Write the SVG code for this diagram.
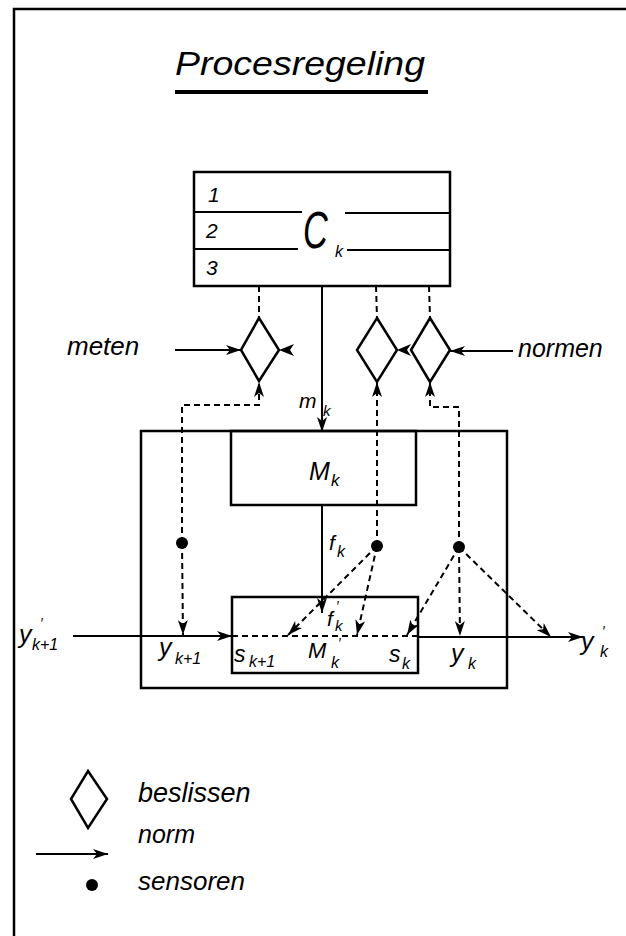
<svg xmlns="http://www.w3.org/2000/svg" width="626" height="936" viewBox="0 0 626 936">
<style>
text{font-family:"Liberation Sans",Arial,sans-serif;font-style:italic;fill:#000}
.ln{stroke:#000;stroke-width:2;fill:none}
.bx{stroke:#000;stroke-width:2.5;fill:none}
.ds{stroke:#000;stroke-width:2;fill:none;stroke-dasharray:6 4}
.dm{stroke:#000;stroke-width:2.5;fill:#fff;stroke-linejoin:miter}
.dot{fill:#000}
.ah{fill:#000}
</style>
<defs>
<marker id="arr" viewBox="0 0 15 10" refX="15" refY="5" markerWidth="15" markerHeight="10" orient="auto" markerUnits="userSpaceOnUse">
<path d="M0,0 L15,5 L0,10 L4,5 z" fill="#000"/>
</marker>
</defs>
<rect width="626" height="936" fill="#fff"/>
<g id="frame">
<path class="bx" d="M14,936 L14,9 L626,9" stroke-width="3"/>
</g>
<g id="title">
<text x="175" y="75" font-size="33" textLength="250" lengthAdjust="spacingAndGlyphs">Procesregeling</text>
<line x1="175" y1="92" x2="428" y2="92" stroke="#000" stroke-width="4"/>
</g>
<g id="node-C">
<rect class="bx" x="194" y="172" width="256" height="114"/>
<line class="ln" x1="194" y1="212" x2="302" y2="212"/>
<line class="ln" x1="345" y1="213" x2="450" y2="213"/>
<line class="ln" x1="194" y1="249" x2="298" y2="249"/>
<line class="ln" x1="347" y1="250" x2="450" y2="250"/>
<text x="208" y="202" font-size="21">1</text>
<text x="206" y="238" font-size="21">2</text>
<text x="206" y="275" font-size="21">3</text>
<text transform="translate(303,248) scale(0.66,1)" font-size="52">C</text>
<text x="335" y="257" font-size="16">k</text>
</g>
<g id="node-meten">
<polygon class="dm" points="259,318 279,350 259,381 241,350"/>
<polygon class="ah" points="279,350 294,344 290,350 294,356"/>
<text x="67" y="355" font-size="26">meten</text>
</g>
<g id="node-beslis2">
<polygon class="dm" points="377,318 397,350 377,382 357,350"/>
<polygon class="ah" points="397,350 411,344 407,350 411,356"/>
</g>
<g id="node-normen">
<polygon class="dm" points="430,318 450,350 430,382 411,350"/>
<text x="518" y="357" font-size="25">normen</text>
</g>
<g id="node-proces">
<rect class="bx" x="141" y="431" width="366" height="257"/>
</g>
<g id="node-Mk">
<rect class="bx" x="231" y="431" width="185" height="74"/>
<text x="309" y="480" font-size="25">M</text>
<text x="331" y="486" font-size="17">k</text>
</g>
<g id="node-Mk2">
<rect class="bx" x="232" y="597" width="186" height="76"/>
<text x="327" y="626" font-size="21">f</text>
<text x="336" y="611" font-size="14">′</text>
<text x="335" y="631" font-size="15">k</text>
<text x="308" y="658" font-size="22">M</text>
<text x="338" y="648" font-size="14">′</text>
<text x="331" y="668" font-size="16">k</text>
<text x="389" y="662" font-size="23">s</text>
<text x="402" y="669" font-size="16">k</text>
<text x="234" y="662" font-size="23">s</text>
<text x="249" y="667" font-size="16">k+1</text>
</g>
<g id="sensors">
<circle class="dot" cx="182" cy="543" r="6"/>
<circle class="dot" cx="377" cy="546" r="6"/>
<circle class="dot" cx="459" cy="547" r="6"/>
</g>
<g id="connectors">
<line class="ln" x1="175" y1="350" x2="241" y2="350" marker-end="url(#arr)"/>
<line class="ln" x1="513" y1="351" x2="450" y2="351" marker-end="url(#arr)"/>
<line class="ln" x1="322" y1="286" x2="322" y2="432" marker-end="url(#arr)"/>
<line class="ds" x1="259" y1="286" x2="259" y2="318"/>
<line class="ds" x1="376" y1="286" x2="377" y2="318"/>
<line class="ds" x1="429" y1="286" x2="430" y2="318"/>
<path class="ds" d="M182,543 L182,405 L259,405 L259,382" marker-end="url(#arr)"/>
<path class="ds" d="M377,546 L377,382" marker-end="url(#arr)"/>
<path class="ds" d="M459,547 L459,407 L430,407 L430,382" marker-end="url(#arr)"/>
<line class="ln" x1="322" y1="505" x2="322" y2="613" marker-end="url(#arr)"/>
<line class="ds" x1="182" y1="543" x2="183" y2="635" marker-end="url(#arr)"/>
<line class="ds" x1="377" y1="546" x2="288" y2="635" marker-end="url(#arr)"/>
<line class="ds" x1="377" y1="546" x2="357" y2="635" marker-end="url(#arr)"/>
<line class="ds" x1="459" y1="547" x2="407" y2="635" marker-end="url(#arr)"/>
<line class="ds" x1="459" y1="547" x2="460" y2="636" marker-end="url(#arr)"/>
<line class="ds" x1="459" y1="547" x2="551" y2="637" marker-end="url(#arr)"/>
<line class="ln" x1="73" y1="636" x2="232" y2="636" marker-end="url(#arr)"/>
<line class="ds" x1="232" y1="636" x2="418" y2="636"/>
<line class="ln" x1="418" y1="637" x2="583" y2="637" marker-end="url(#arr)"/>
<text x="299" y="408" font-size="21">m</text>
<text x="323" y="416" font-size="15">k</text>
<text x="329" y="550" font-size="21">f</text>
<text x="337" y="557" font-size="16">k</text>
<text x="19" y="643" font-size="25">y</text>
<text x="40" y="628" font-size="14">′</text>
<text x="32" y="650" font-size="16">k+1</text>
<text x="159" y="656" font-size="25">y</text>
<text x="175" y="664" font-size="16">k+1</text>
<text x="451" y="662" font-size="25">y</text>
<text x="468" y="669" font-size="16">k</text>
<text x="581" y="650" font-size="25">y</text>
<text x="602" y="636" font-size="14">′</text>
<text x="600" y="657" font-size="16">k</text>
</g>
<g id="legend">
<polygon class="dm" points="88,771 107,799 88,828 71,799" stroke-width="2"/>
<text x="138" y="802" font-size="27">beslissen</text>
<line class="ln" x1="36" y1="854" x2="108" y2="854" marker-end="url(#arr)"/>
<text x="138" y="843" font-size="25">norm</text>
<circle class="dot" cx="92" cy="885" r="6"/>
<text x="138" y="890" font-size="26">sensoren</text>
</g>
</svg>
